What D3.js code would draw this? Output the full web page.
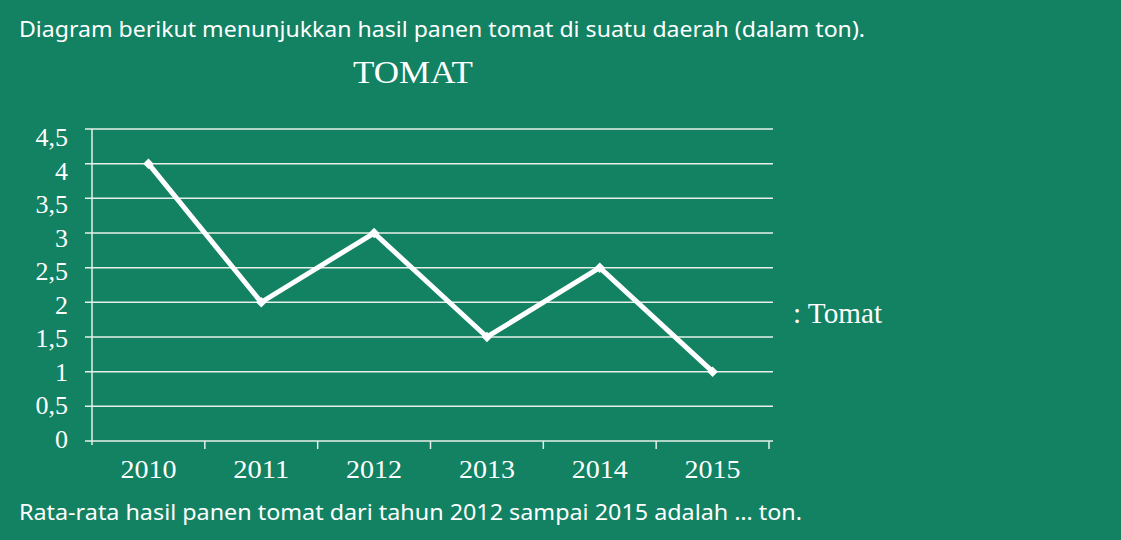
<!DOCTYPE html>
<html>
<head>
<meta charset="utf-8">
<script src="https://cdn.jsdelivr.net/npm/d3@7"></script>
<style>
  html, body { margin: 0; padding: 0; background: #128262; }
  svg { display: block; }
</style>
</head>
<body>
<svg id="chart"></svg>
<script>
const years = ["2010", "2011", "2012", "2013", "2014", "2015"];
const tomat = [4, 2, 3, 1.5, 2.5, 1];
const yTicks = [0, 0.5, 1, 1.5, 2, 2.5, 3, 3.5, 4, 4.5];

const width = 1121, height = 540;
const margin = { top: 129, right: 352, bottom: 99, left: 92 };
const sans = "'Noto Sans', 'Open Sans', sans-serif";
const serif = "'Liberation Serif', 'DejaVu Serif', serif";

const svg = d3.select("#chart")
    .attr("width", width)
    .attr("height", height)
    .style("background", "#128262");

const x = d3.scaleBand()
    .domain(years)
    .range([margin.left, width - margin.right]);

const y = d3.scaleLinear()
    .domain([0, 4.5])
    .range([height - margin.bottom, margin.top]);

// the tick labels sit slightly off the gridlines in the original
const yLabel = d3.scaleLinear()
    .domain([0, 4.5])
    .range([439, 137]);

// fitted text helper
const fitText = (sel, w) => sel.attr("textLength", w).attr("lengthAdjust", "spacingAndGlyphs");

svg.append("text")
    .attr("x", 19).attr("y", 37)
    .attr("fill", "#fff")
    .attr("font-family", sans)
    .attr("font-size", 22)
    .text("Diagram berikut menunjukkan hasil panen tomat di suatu daerah (dalam ton).")
    .call(fitText, 846);

svg.append("text")
    .attr("x", 413).attr("y", 83)
    .attr("fill", "#fff")
    .attr("text-anchor", "middle")
    .attr("font-family", serif)
    .attr("font-size", 32)
    .text("TOMAT")
    .call(fitText, 120);

// gridlines
svg.append("g")
    .selectAll("line")
    .data(yTicks)
    .enter()
    .append("line")
        .attr("x1", margin.left - 7)
        .attr("x2", width - margin.right + 4)
        .attr("y1", d => y(d))
        .attr("y2", d => y(d))
        .style("stroke", "#e6efe9")
        .style("stroke-width", 1.5);

// y axis line
svg.append("line")
    .attr("x1", margin.left).attr("x2", margin.left)
    .attr("y1", y(4.5)).attr("y2", y(0) + 4)
    .style("stroke", "#e6efe9")
    .style("stroke-width", 1.5);

// x ticks at band boundaries
const bounds = years.map(d => x(d)).concat([x.range()[1]]);
svg.append("g")
    .selectAll("line")
    .data(bounds.slice(1))
    .enter()
    .append("line")
        .attr("x1", d => d).attr("x2", d => d)
        .attr("y1", y(0)).attr("y2", y(0) + 8)
        .style("stroke", "#e6efe9")
        .style("stroke-width", 1.5);

// y labels
svg.append("g")
    .selectAll("text")
    .data(yTicks)
    .enter()
    .append("text")
        .attr("x", 68)
        .attr("y", d => yLabel(d) + 9)
        .attr("text-anchor", "end")
        .attr("fill", "#fff")
        .attr("font-family", serif)
        .attr("font-size", 26)
        .text(d => d3.format(".1~f")(d).replace(".", ","));

// x labels
svg.append("g")
    .selectAll("text")
    .data(years)
    .enter()
    .append("text")
        .attr("x", d => x(d) + x.bandwidth() / 2)
        .attr("y", 478)
        .attr("text-anchor", "middle")
        .attr("fill", "#fff")
        .attr("font-family", serif)
        .attr("font-size", 26)
        .text(d => d)
        .call(fitText, 56);

// line
const line = d3.line()
    .x((d, i) => x(years[i]) + x.bandwidth() / 2)
    .y(d => y(d));

svg.append("path")
    .datum(tomat)
    .attr("d", line)
    .attr("fill", "none")
    .attr("stroke", "#fff")
    .attr("stroke-width", 5)
    .attr("stroke-linejoin", "miter");

svg.append("g")
    .selectAll("path")
    .data(tomat)
    .enter()
    .append("path")
        .attr("d", d3.symbol().type(d3.symbolDiamond2).size(70))
        .attr("transform", (d, i) => "translate(" + (x(years[i]) + x.bandwidth() / 2) + "," + y(d) + ")")
        .attr("fill", "#fff");

// legend
svg.append("text")
    .attr("x", 793).attr("y", 323)
    .attr("fill", "#fff")
    .attr("font-family", serif)
    .attr("font-size", 29)
    .text(": Tomat")
    .call(fitText, 89);

svg.append("text")
    .attr("x", 19).attr("y", 520)
    .attr("fill", "#fff")
    .attr("font-family", sans)
    .attr("font-size", 22)
    .text("Rata-rata hasil panen tomat dari tahun 2012 sampai 2015 adalah … ton.")
    .call(fitText, 783);
</script>
</body>
</html>
